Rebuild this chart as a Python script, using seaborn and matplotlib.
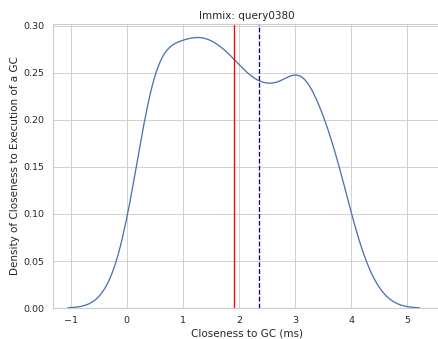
import matplotlib
matplotlib.use("Agg")
import matplotlib.pyplot as plt
import pandas as pd
import seaborn as sns

# Closeness of each sample to the next GC (ms)
closeness_ms = [
    0.00, 0.47, 0.47, 0.47, 0.47, 0.47, 0.47, 0.47, 0.77, 0.98, 0.98, 0.98,
    0.98, 1.00, 1.14, 1.36, 1.42, 1.44, 1.46, 1.47, 1.51, 1.65, 1.92, 1.95,
    1.96, 1.97, 1.97, 1.97, 2.32, 2.51, 2.51, 2.51, 2.51, 2.51, 2.78, 3.11,
    3.11, 3.11, 3.11, 3.11, 3.11, 3.11, 3.59, 3.68, 3.68, 3.68, 3.68, 4.17,
]
# Reference markers (ms)
red_marker = 1.915
blue_marker = 2.35

title = "Immix: query0380"
x_label = "Closeness to GC (ms)"
y_label = "Density of Closeness to Execution of a GC"

sns.set_theme(style="whitegrid", context="notebook")

df = pd.DataFrame({"closeness": closeness_ms})

fig = plt.figure(figsize=(7.008, 5.424), dpi=62.5)
ax = fig.add_axes([0.121, 0.0914, 0.8836, 0.8378])

sns.kdeplot(data=df, x="closeness", bw_adjust=0.678, ax=ax, color="#4c72b0")
ax.axvline(red_marker, color="red")
ax.axvline(blue_marker, color="darkblue", linestyle="--")

ax.set_xlim(-1.315, 5.585)
ax.set_title(title)
ax.set_xlabel(x_label)
ax.set_ylabel(y_label)

fig.savefig("out.png", dpi=62.5)
